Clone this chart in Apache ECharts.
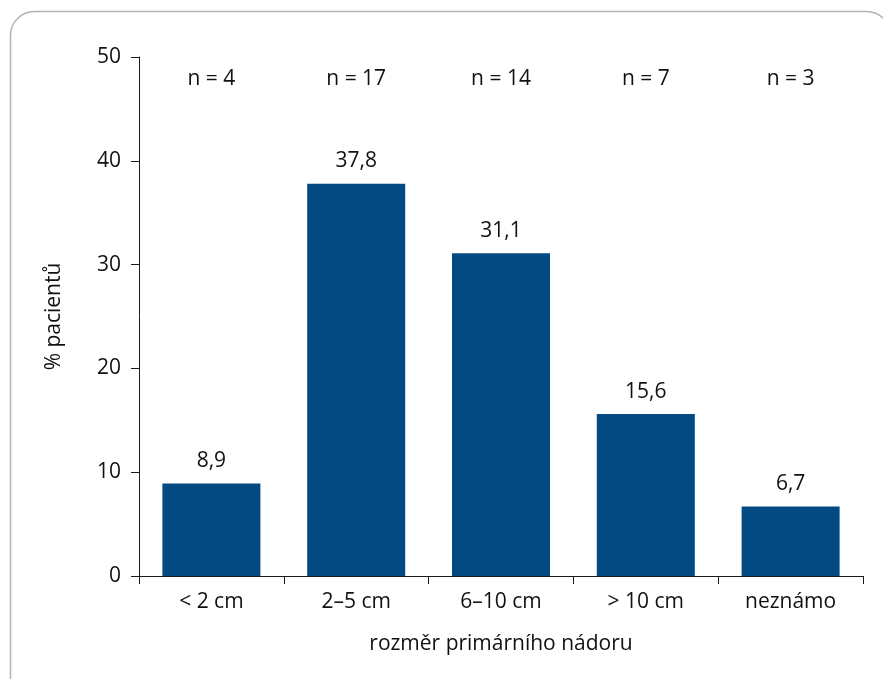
<!DOCTYPE html>
<html>
<head>
<meta charset="utf-8">
<script src="https://cdn.jsdelivr.net/npm/echarts@6/dist/echarts.min.js"></script>
<style>
  html, body { margin: 0; padding: 0; background: #fff; }
  #chart { width: 883px; height: 679px; }
</style>
</head>
<body>
<div id="chart"></div>
<script>
// Tumour size categories, share of patients (%) and patient counts
const categories = ['< 2 cm', '2–5 cm', '6–10 cm', '> 10 cm', 'neznámo'];
const percentValues = [8.9, 37.8, 31.1, 15.6, 6.7];
const patientCounts = [4, 17, 14, 7, 3];
const yTicks = [0, 10, 20, 30, 40, 50];

const FONT = '"Open Sans", "Noto Sans", sans-serif';
const FONT_SIZE = 21;
const TEXT_COLOR = '#111';
const BAR_COLOR = '#034a82';
const yMax = yTicks[yTicks.length - 1];
const countRow = yMax - 2.1;

const chart = echarts.init(document.getElementById('chart'));
chart.setOption({
  animation: false,
  graphic: [{
    type: 'rect',
    shape: { x: 10.5, y: 11.5, width: 880, height: 700, r: 24 },
    style: { fill: 'none', stroke: '#b3b3b3', lineWidth: 1.5 },
    silent: true,
    z: -1
  }],
  grid: { left: 139, right: 20, top: 57, bottom: 103 },
  xAxis: {
    type: 'category',
    data: categories,
    axisLine: { lineStyle: { color: '#1a1a1a', width: 1 } },
    axisTick: { show: true, length: 8, alignWithLabel: false, lineStyle: { color: '#1a1a1a' } },
    axisLabel: { color: TEXT_COLOR, fontSize: FONT_SIZE, fontFamily: FONT, margin: 16 },
    name: 'rozměr primárního nádoru',
    nameLocation: 'middle',
    nameGap: 58,
    nameTextStyle: { color: TEXT_COLOR, fontSize: FONT_SIZE, fontFamily: FONT }
  },
  yAxis: {
    type: 'value',
    min: yTicks[0],
    max: yMax,
    interval: yTicks[1] - yTicks[0],
    splitLine: { show: false },
    axisLine: { show: true, lineStyle: { color: '#1a1a1a', width: 1 } },
    axisTick: { show: true, length: 8, lineStyle: { color: '#1a1a1a' } },
    axisLabel: { color: TEXT_COLOR, fontSize: FONT_SIZE, fontFamily: FONT, margin: 18 },
    name: '% pacientů',
    nameLocation: 'middle',
    nameRotate: 90,
    nameGap: 74,
    nameTextStyle: { color: TEXT_COLOR, fontSize: FONT_SIZE, fontFamily: FONT }
  },
  series: [{
    type: 'bar',
    data: percentValues,
    barWidth: 98,
    itemStyle: { color: BAR_COLOR },
    label: {
      show: true,
      position: 'top',
      distance: 12,
      color: TEXT_COLOR,
      fontSize: FONT_SIZE,
      fontFamily: FONT,
      formatter: p => String(p.value).replace('.', ',')
    }
  }, {
    type: 'scatter',
    data: patientCounts.map(() => countRow),
    symbolSize: 0,
    silent: true,
    itemStyle: { opacity: 1 },
    label: {
      show: true,
      position: 'inside',
      color: TEXT_COLOR,
      textBorderWidth: 0,
      fontSize: FONT_SIZE,
      fontFamily: FONT,
      formatter: p => 'n = ' + patientCounts[p.dataIndex]
    }
  }]
});
</script>
</body>
</html>
